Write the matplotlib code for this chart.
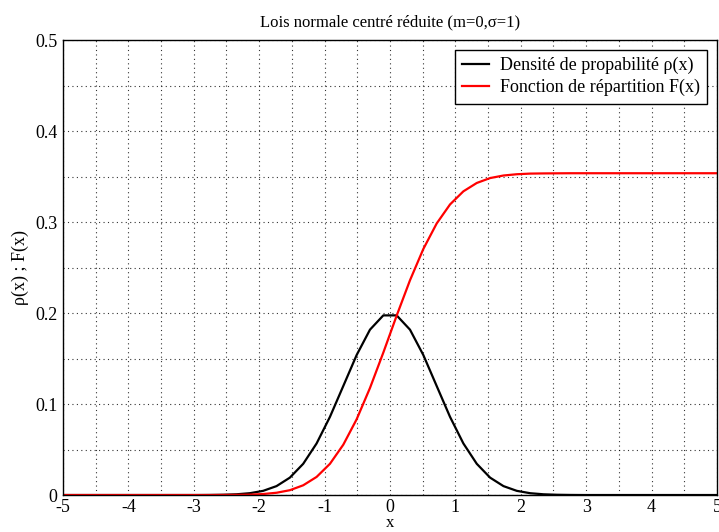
import numpy as np
import matplotlib.pyplot as plt
from matplotlib.ticker import MultipleLocator

plt.rcParams['font.family'] = ['Liberation Serif', 'DejaVu Serif']
plt.rcParams['axes.unicode_minus'] = False

# sampling points (50 points from -5 to 5)
x = [-5.000, -4.796, -4.592, -4.388, -4.184, -3.980, -3.776, -3.571, -3.367, -3.163,
     -2.959, -2.755, -2.551, -2.347, -2.143, -1.939, -1.735, -1.531, -1.327, -1.122,
     -0.918, -0.714, -0.510, -0.306, -0.102, 0.102, 0.306, 0.510, 0.714, 0.918,
     1.122, 1.327, 1.531, 1.735, 1.939, 2.143, 2.347, 2.551, 2.755, 2.959,
     3.163, 3.367, 3.571, 3.776, 3.980, 4.184, 4.388, 4.592, 4.796, 5.000]

# density rho(x)
rho = [0.0, 0.0, 0.0, 0.0, 0.0, 0.0, 0.0, 0.0, 0.0, 0.0,
       0.0, 0.0001, 0.0003, 0.0008, 0.0020, 0.0046, 0.0098, 0.0191, 0.0343, 0.0567,
       0.0859, 0.1198, 0.1538, 0.1817, 0.1974, 0.1974, 0.1817, 0.1538, 0.1198, 0.0859,
       0.0567, 0.0343, 0.0191, 0.0098, 0.0046, 0.0020, 0.0008, 0.0003, 0.0001, 0.0,
       0.0, 0.0, 0.0, 0.0, 0.0, 0.0, 0.0, 0.0, 0.0, 0.0]

# distribution F(x)
F = [0.0, 0.0, 0.0, 0.0, 0.0, 0.0, 0.0, 0.0, 0.0, 0.0,
     0.0, 0.0, 0.0001, 0.0002, 0.0004, 0.0011, 0.0025, 0.0053, 0.0107, 0.0199,
     0.0343, 0.0553, 0.0832, 0.1176, 0.1565, 0.1971, 0.2360, 0.2704, 0.2984, 0.3193,
     0.3337, 0.3429, 0.3483, 0.3511, 0.3525, 0.3532, 0.3534, 0.3535, 0.3536, 0.3536,
     0.3536, 0.3536, 0.3536, 0.3536, 0.3536, 0.3536, 0.3536, 0.3536, 0.3536, 0.3536]

xticks = [-5, -4, -3, -2, -1, 0, 1, 2, 3, 4, 5]
xticklabels = ['-5', '-4', '-3', '-2', '-1', '0', '1', '2', '3', '4', '5']
yticks = [0, 0.1, 0.2, 0.3, 0.4, 0.5]
yticklabels = ['0', '0.1', '0.2', '0.3', '0.4', '0.5']

fig = plt.figure(figsize=(7.19, 5.32), dpi=100)
ax = fig.add_axes([0.0876, 0.0695, 0.9096, 0.8553])

ax.plot(x, rho, color='black', linewidth=1.6, label='Densité de propabilité ρ(x)')
ax.plot(x, F, color='red', linewidth=1.6, label='Fonction de répartition F(x)')

ax.set_xlim(-5, 5)
ax.set_ylim(0, 0.5)
ax.set_xticks(xticks)
ax.set_xticklabels(xticklabels)
ax.set_yticks(yticks)
ax.set_yticklabels(yticklabels)
ax.xaxis.set_minor_locator(MultipleLocator(0.5))
ax.yaxis.set_minor_locator(MultipleLocator(0.05))
ax.tick_params(which='both', length=0, labelsize=13, pad=4)
ax.tick_params(axis='x', pad=3)
ax.grid(which='both', color='black', linestyle=(0, (1, 3)), linewidth=0.8, alpha=0.8)

for s in ax.spines.values():
    s.set_linewidth(1.0)
    s.set_color('black')

ax.set_title('Lois normale centré réduite (m=0,σ=1)', fontsize=12, pad=10)
ax.set_xlabel('x', fontsize=12, labelpad=-1)
ax.set_ylabel('ρ(x) ; F(x)', fontsize=13, labelpad=4)

leg = ax.legend(loc='upper right', fontsize=13, fancybox=False, framealpha=1,
                edgecolor='black', borderaxespad=0.55, handlelength=1.5,
                handletextpad=0.6, borderpad=0.4, labelspacing=0.25)
leg.get_frame().set_linewidth(1.0)

fig.savefig('out.png', dpi=100)
